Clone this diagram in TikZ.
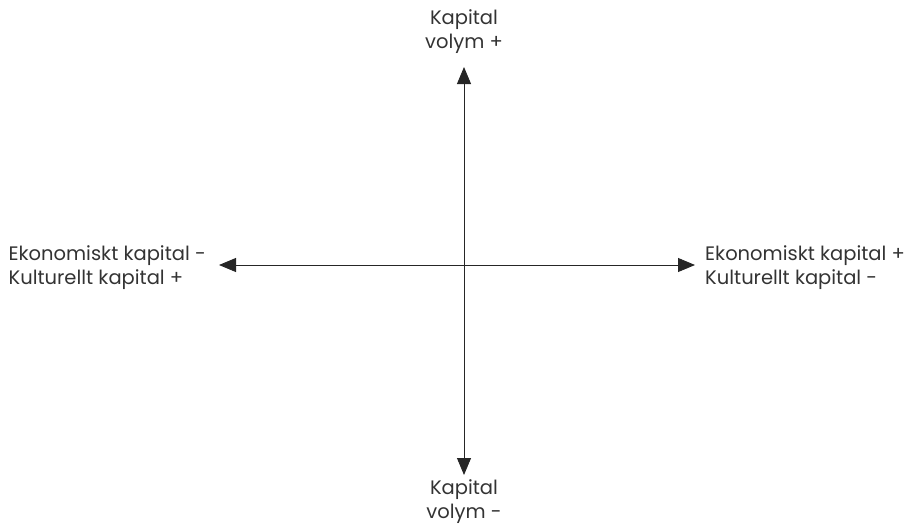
\documentclass[tikz,border=0pt]{standalone}
\usepackage{fontspec}
\setmainfont{Poppins}
\usetikzlibrary{arrows.meta}
\begin{document}
\begin{tikzpicture}[x=1pt,y=-1pt,
  axis/.style={line width=0.9pt, color=black!85, {Triangle[length=17pt,width=14pt]}-{Triangle[length=17pt,width=14pt]}},
  lbl/.style={font=\fontsize{19.5}{24}\selectfont, text=black!80, align=center, inner sep=0pt}]
\useasboundingbox (0,0) rectangle (904,525);
\coordinate (top) at (464,67);
\coordinate (bot) at (464,475);
\coordinate (lft) at (219,265);
\coordinate (rgt) at (695,265);
\draw[axis] (bot) -- (top);
\draw[axis] (lft) -- (rgt);
\node[lbl] (tl) at (464,32) {Kapital\\volym +};
\node[lbl] (bl) at (464,502) {Kapital\\volym -};
\node[lbl, anchor=east, align=left] (ll) at (206,268) {Ekonomiskt kapital -\\Kulturellt kapital +};
\node[lbl, anchor=west, align=left] (rl) at (705,268) {Ekonomiskt kapital +\\Kulturellt kapital -};
\end{tikzpicture}
\end{document}
